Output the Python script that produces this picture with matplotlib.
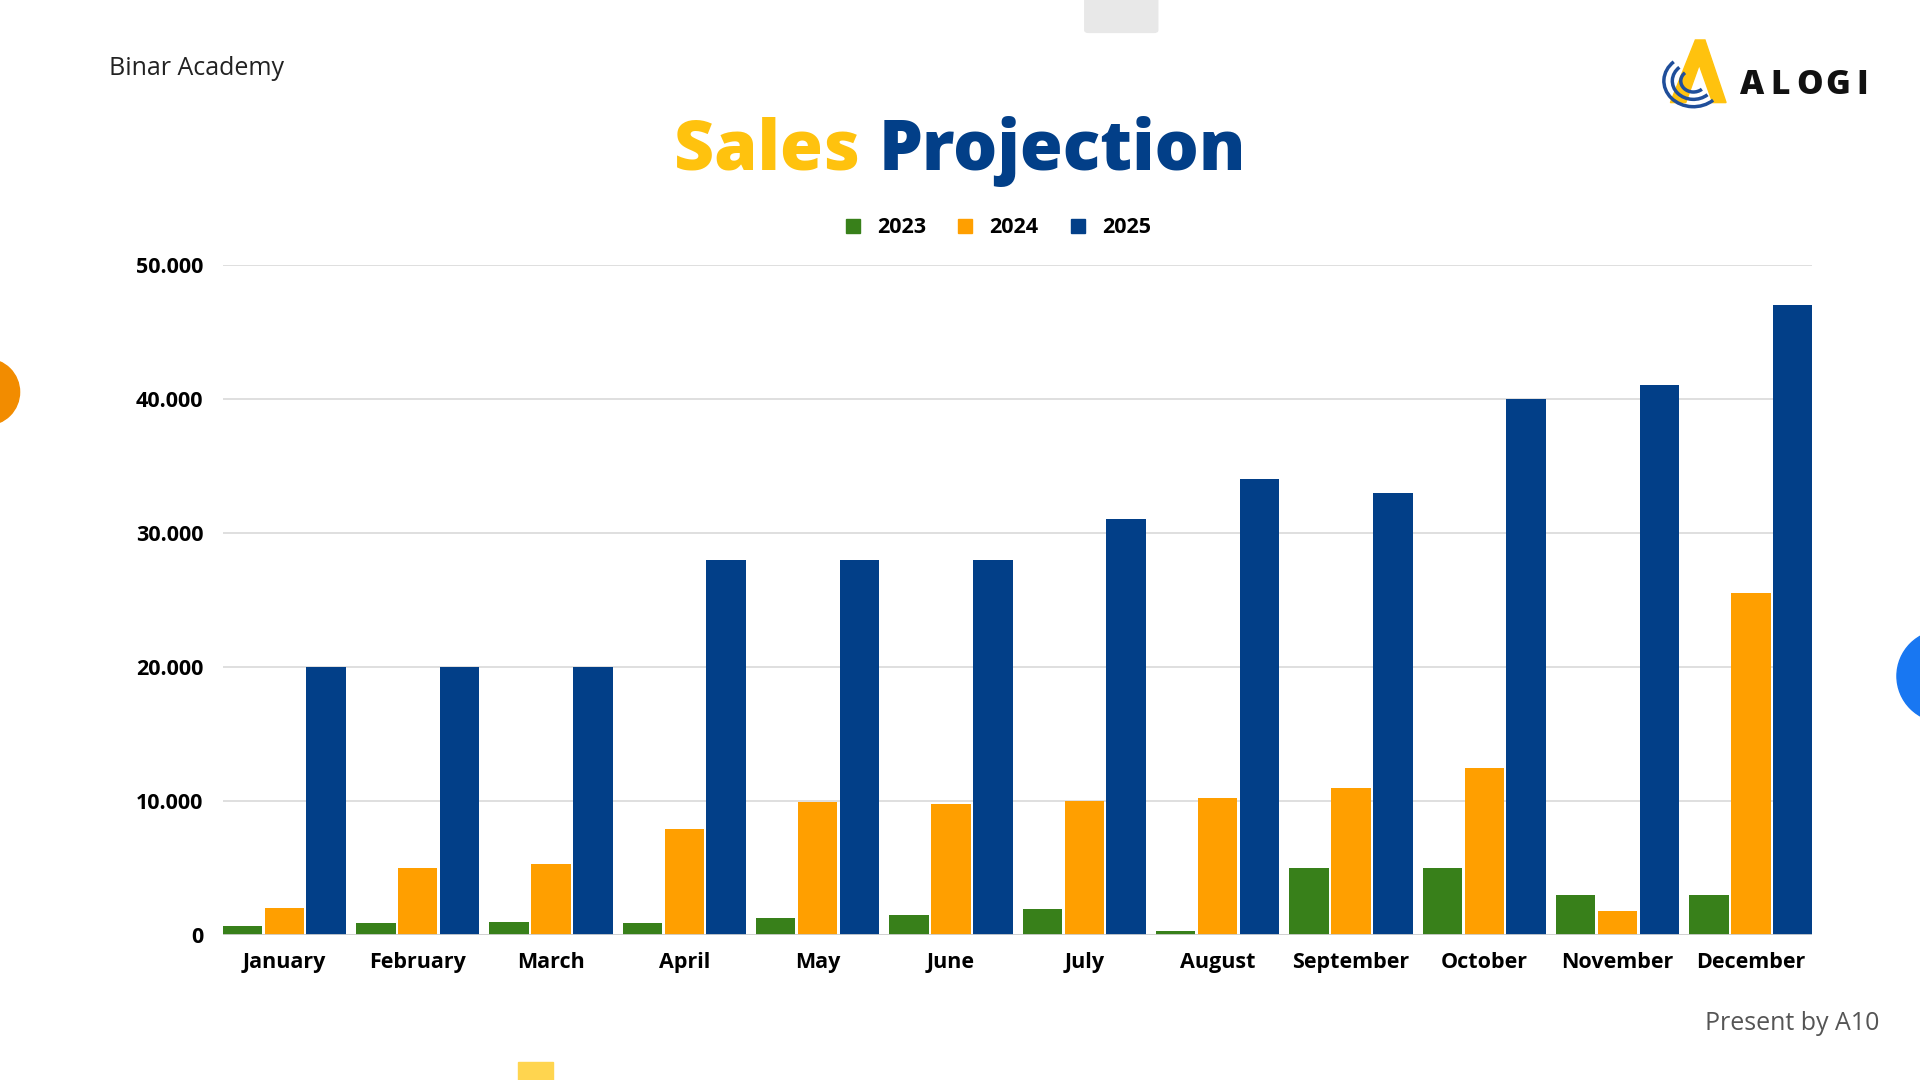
import matplotlib.pyplot as plt
import matplotlib.patches as mpatches
import numpy as np
from matplotlib.ticker import FuncFormatter

months = ['January', 'February', 'March', 'April', 'May', 'June',
          'July', 'August', 'September', 'October', 'November', 'December']
years = ['2023', '2024', '2025']
sales2023 = [670, 900, 990, 900, 1270, 1490, 1960, 320, 5000, 5000, 3000, 3000]
sales2024 = [2060, 5000, 5300, 7900, 9900, 9800, 10000, 10200, 11000, 12500, 1800, 25500]
sales2025 = [20000, 20000, 20000, 28000, 28000, 28000, 31000, 34000, 33000, 40000, 41000, 47000]
yTicks = [0, 10000, 20000, 30000, 40000, 50000]

colors = ['#38801A', '#FF9F00', '#023F88']

plt.rcParams['font.family'] = ['Open Sans', 'DejaVu Sans']

fig = plt.figure(figsize=(19.2, 10.8), dpi=100)
ax = fig.add_axes([0.116, 0.134, 0.828, 0.621])

x = np.arange(len(months))
width = 0.296
step = 0.314
for i, (vals, lab) in enumerate(zip([sales2023, sales2024, sales2025], years)):
    ax.bar(x + (i - 1) * step, vals, width, color=colors[i], label=lab, zorder=3)

ax.set_xlim(-0.462, 11.462)
ax.set_ylim(0, 50000)
ax.set_yticks(yTicks)
ax.yaxis.set_major_formatter(FuncFormatter(lambda v, p: '{:,.0f}'.format(v).replace(',', '.')))
ax.set_xticks(x)
ax.set_xticklabels(months)
ax.grid(axis='y', color='#D9D9D9', linewidth=1.2, zorder=0)
ax.tick_params(length=0, labelsize=15.5)
ax.tick_params(axis='x', pad=12)
ax.tick_params(axis='y', pad=14)
for lbl in ax.get_xticklabels() + ax.get_yticklabels():
    lbl.set_fontweight('bold')
for s in ax.spines.values():
    s.set_visible(False)
ax.axhline(0, color='#D0D0D0', linewidth=2, zorder=4)

handles = [mpatches.Patch(color=c, label=l) for c, l in zip(colors, years)]
leg = fig.legend(handles=handles, loc='center', bbox_to_anchor=(0.52, 0.789), ncol=3,
                 frameon=False, handlelength=0.65, handleheight=0.65, handletextpad=0.8,
                 columnspacing=1.5, prop={'weight': 'bold', 'size': 15.5})

# title in two colours
t1 = fig.text(0.5, 0.86, 'Sales ', color='#FFC20E', fontsize=50, fontweight='heavy',
              ha='right', va='center')
t2 = fig.text(0.5, 0.86, 'Projection', color='#023F88', fontsize=50, fontweight='heavy',
              ha='left', va='center')
fig.canvas.draw()
r = fig.canvas.get_renderer()
w1 = t1.get_window_extent(r).width
w2 = t2.get_window_extent(r).width
shift = (w1 - w2) / 2 / fig.bbox.width
t1.set_x(0.5 + shift)
t2.set_x(0.5 + shift)

fig.text(0.057, 0.937, 'Binar Academy', fontsize=18, color='#222222',
         ha='left', va='center')
fig.text(0.979, 0.052, 'Present by A10', fontsize=18, color='#555555',
         ha='right', va='center')

# logo
fig.patches.append(mpatches.Polygon([[0.870, 0.905], [0.883, 0.963], [0.888, 0.963], [0.899, 0.905],
                                     [0.892, 0.905], [0.885, 0.940], [0.878, 0.905]],
                                    closed=True, color='#FFC20E', transform=fig.transFigure))
for rr in [0.014, 0.010, 0.006]:
    fig.patches.append(mpatches.Arc((0.882, 0.925), rr * 2.2, rr * 3.4, theta1=120, theta2=300,
                                    color='#1F4E9A', linewidth=2.5, transform=fig.transFigure))
for letter, lx in zip('ALOGI', [0.9126, 0.9273, 0.9426, 0.9573, 0.9700]):
    fig.text(lx, 0.921, letter, fontsize=24, fontweight='heavy', color='#111111',
             ha='center', va='center')

# decorations
fig.patches.append(mpatches.FancyBboxPatch((0.567, 0.972), 0.034, 0.04, boxstyle='round,pad=0.002',
                                           color='#E8E8E8', transform=fig.transFigure))
fig.patches.append(mpatches.Ellipse((-0.007, 0.637), 0.0344, 0.0612, color='#F28C00',
                                    transform=fig.transFigure))
fig.patches.append(mpatches.Ellipse((1.012, 0.374), 0.048, 0.085, color='#1877F2',
                                    transform=fig.transFigure))
fig.patches.append(mpatches.Rectangle((0.270, 0.0), 0.018, 0.017, color='#FFD54F',
                                      transform=fig.transFigure))

fig.savefig('out.png', dpi=100, facecolor='white')
